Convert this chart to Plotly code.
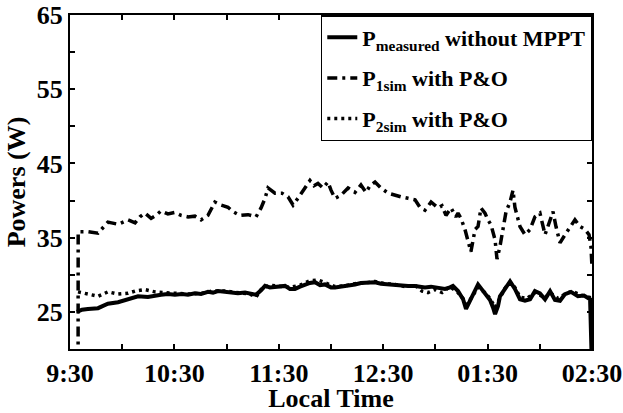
import plotly.graph_objects as go

# time in minutes after 9:30
t_meas = [4.0, 6.9, 10.3, 16.1, 19.0, 21.8, 27.6, 33.3, 36.2, 39.1, 44.8, 48.8, 52.3, 56.3, 60.3, 64.4,
          67.8, 71.8, 75.3, 79.3, 82.2, 85.1, 89.1, 92.5, 96.5, 100.6, 103.4, 106.9, 109.8, 112.1, 114.9,
          117.8, 120.7, 123.6, 126.4, 129.3, 132.2, 135.1, 137.9, 140.8, 143.7, 146.5, 150.0, 152.3, 155.7,
          159.8, 163.8, 167.2, 171.3, 175.3, 178.7, 182.8, 186.8, 190.2, 194.3, 198.3, 201.1, 204.0, 207.5,
          211.5, 215.5, 218.4, 220.1, 223.0, 225.9, 227.6, 230.4, 232.8, 234.5, 236.8, 238.5, 241.4, 243.1,
          244.3, 246.0, 247.1, 250.0, 252.9, 255.7, 258.6, 261.5, 264.4, 267.2, 270.1, 273.0, 275.9, 278.7,
          281.6, 284.5, 287.9, 291.9, 295.4, 298.9, 299.7, 300.0]
p_meas = [25.0, 25.3, 25.4, 25.5, 25.8, 26.1, 26.3, 26.7, 27.0, 27.1, 27.0, 27.2, 27.3, 27.4, 27.3, 27.4,
          27.3, 27.5, 27.4, 27.7, 27.6, 27.8, 27.7, 27.7, 27.5, 27.6, 27.5, 27.3, 27.9, 28.5, 28.3,
          28.4, 28.5, 28.5, 28.1, 28.1, 28.4, 28.7, 28.9, 29.0, 28.6, 28.7, 28.3, 28.3, 28.4,
          28.5, 28.7, 28.9, 28.9, 29.0, 28.8, 28.7, 28.6, 28.6, 28.5, 28.5, 28.4, 28.3, 28.4,
          28.2, 28.1, 28.3, 28.5, 27.8, 26.7, 25.4, 26.7, 27.8, 28.7, 28.0, 27.4, 26.6, 25.6,
          24.7, 25.8, 27.1, 28.1, 29.1, 28.1, 26.7, 26.5, 26.7, 27.8, 27.5, 26.7, 27.8, 26.6,
          26.5, 27.4, 27.7, 27.1, 27.2, 26.7, 20.5, 17.0]

t_p1 = [4.6, 4.7, 10.3, 16.1, 21.8, 27.6, 33.3, 37.4, 40.2, 43.1, 46.6, 49.4, 52.3, 56.3, 60.3, 63.8, 67.8,
        71.8, 75.3, 79.3, 83.3, 86.8, 90.8, 93.7, 97.7, 102.3, 106.9, 109.8, 112.1, 113.8, 117.8, 121.8,
        125.3, 128.2, 131.0, 135.1, 137.9, 140.2, 142.5, 145.4, 148.3, 150.0, 152.3, 155.7, 159.8, 163.8,
        167.2, 170.1, 172.4, 175.3, 178.7, 182.8, 186.8, 190.2, 194.3, 198.3, 201.1, 204.0, 207.5, 211.5,
        213.8, 216.1, 219.0, 221.8, 223.0, 224.7, 227.0, 228.7, 230.4, 232.8, 234.5, 236.2, 238.5, 240.2,
        242.0, 244.3, 245.4, 247.1, 248.9, 250.6, 252.9, 254.6, 255.7, 258.6, 261.5, 264.4, 267.2, 270.1,
        273.0, 275.9, 277.6, 279.3, 281.6, 284.5, 287.4, 290.2, 293.1, 296.0, 298.3, 299.4, 300.0]
p_1sim = [0.0, 35.8, 35.8, 35.6, 37.1, 36.8, 37.4, 37.0, 37.8, 38.3, 37.6, 38.0, 38.6, 38.2, 38.4, 38.0, 37.8,
          37.9, 37.4, 38.0, 39.8, 39.4, 39.1, 38.5, 38.0, 38.1, 37.8, 39.0, 40.3, 41.7, 41.0, 41.0,
          40.5, 39.4, 40.3, 41.7, 42.7, 42.0, 42.3, 41.7, 42.5, 41.4, 40.3, 40.7, 41.7, 41.1,
          42.1, 41.1, 42.0, 42.5, 41.7, 41.0, 40.7, 40.5, 40.3, 40.1, 39.1, 38.7, 39.8, 39.0,
          39.3, 38.0, 39.0, 37.8, 38.3, 37.6, 36.1, 34.7, 33.1, 36.1, 36.5, 39.0, 38.3, 37.4,
          36.7, 34.7, 32.1, 33.8, 36.5, 38.5, 39.8, 41.4, 39.1, 36.5, 35.4, 36.1, 37.8, 38.3,
          35.4, 37.4, 38.5, 36.5, 34.3, 35.4, 36.5, 37.4, 36.5, 36.1, 35.4, 33.8, 31.0]

t_p2 = [4.6, 10.3, 16.1, 21.8, 27.6, 33.3, 37.4, 43.1, 48.8, 54.6, 60.3, 67.8, 75.3, 81.6, 89.1, 96.5,
        103.4, 106.9, 110.3, 114.9, 120.7, 126.4, 132.2, 137.9, 142.5, 146.5, 152.3, 158.0, 163.8, 169.5,
        175.3, 181.0, 186.8, 192.5, 198.3, 202.3, 205.7, 209.8, 213.8, 218.4, 223.0, 225.9, 228.2, 231.0,
        234.5, 238.5, 241.4, 244.3, 247.1, 250.0, 252.9, 255.7, 258.6, 262.6, 267.2, 273.0, 275.9, 280.5,
        284.5, 288.5, 293.1, 297.7, 299.4]
p_2sim = [27.7, 27.4, 27.1, 27.7, 27.4, 27.5, 27.8, 28.0, 27.7, 27.6, 27.5, 27.4, 27.5, 27.8, 27.8, 27.6,
          27.4, 27.0, 28.2, 28.6, 28.4, 28.3, 28.6, 29.2, 29.3, 28.9, 28.4, 28.5, 28.8, 28.9,
          29.1, 28.8, 28.7, 28.4, 28.6, 27.8, 27.6, 28.0, 27.6, 28.4, 27.6, 26.8, 26.0, 27.0,
          28.3, 27.6, 26.8, 25.6, 27.0, 28.2, 29.0, 28.3, 27.0, 26.8, 27.6, 26.9, 27.6, 26.8,
          27.4, 27.8, 27.3, 27.0, 26.9]

x_tickvals = [0, 60, 120, 180, 240, 300]
x_ticktext = ["9:30", "10:30", "11:30", "12:30", "01:30", "02:30"]
x_minor = [30, 90, 150, 210, 270]
y_tickvals = [25, 35, 45, 55, 65]
y_minor = [30, 40, 50, 60]

FONT = "Liberation Serif"

fig = go.Figure()
fig.add_trace(go.Scatter(x=t_meas, y=p_meas, mode="lines", legendgroup="a",
                         name="<b>P<sub>measured</sub> without MPPT</b>",
                         line=dict(color="black", width=4)))
fig.add_trace(go.Scatter(x=t_p1, y=p_1sim, mode="lines", legendgroup="b",
                         name="<b>P<sub>1sim</sub> with P&amp;O</b>",
                         line=dict(color="black", width=3.5, dash="10px,5px,3px,5px")))
fig.add_trace(go.Scatter(x=t_p2, y=p_2sim, mode="lines", legendgroup="c",
                         name="<b>P<sub>2sim</sub> with P&amp;O</b>",
                         line=dict(color="black", width=3.5, dash="3px,4px")))

axis_common = dict(showline=True, linecolor="black", linewidth=2, mirror="ticks",
                   ticks="inside", ticklen=5, tickwidth=1.5, tickcolor="black",
                   showgrid=False, zeroline=False, automargin=False,
                   ticklabeloverflow="allow",
                   tickfont=dict(family=FONT, size=26, color="black"))

fig.update_xaxes(range=[0, 300], tickmode="array", tickvals=x_tickvals,
                 ticktext=[f"<b>{s}</b>" for s in x_ticktext],
                 minor=dict(tickmode="array", tickvals=x_minor, ticks="inside", ticklen=5,
                            tickwidth=1.5, tickcolor="black"),
                 title=dict(text="<b>Local Time</b>", font=dict(family=FONT, size=26, color="black"),
                            standoff=0),
                 **axis_common)
fig.update_yaxes(range=[20, 65], tickmode="array", tickvals=y_tickvals,
                 ticktext=[f"<b>{v}</b>" for v in y_tickvals],
                 minor=dict(tickmode="array", tickvals=y_minor, ticks="inside", ticklen=5,
                            tickwidth=1.5, tickcolor="black"),
                 title=dict(text="<b>Powers (W)</b>", font=dict(family=FONT, size=26, color="black"),
                            standoff=4),
                 **axis_common)

fig.update_layout(
    width=623, height=413,
    margin=dict(l=70, r=31, t=15, b=64),
    paper_bgcolor="white", plot_bgcolor="white",
    showlegend=True,
    legend=dict(x=1.0015, y=1, xanchor="right", yanchor="top",
                bordercolor="black", borderwidth=1.5, bgcolor="white",
                font=dict(family=FONT, size=22, color="black"),
                itemwidth=30, traceorder="grouped", tracegroupgap=9),
)

fig.write_html("out.html")
